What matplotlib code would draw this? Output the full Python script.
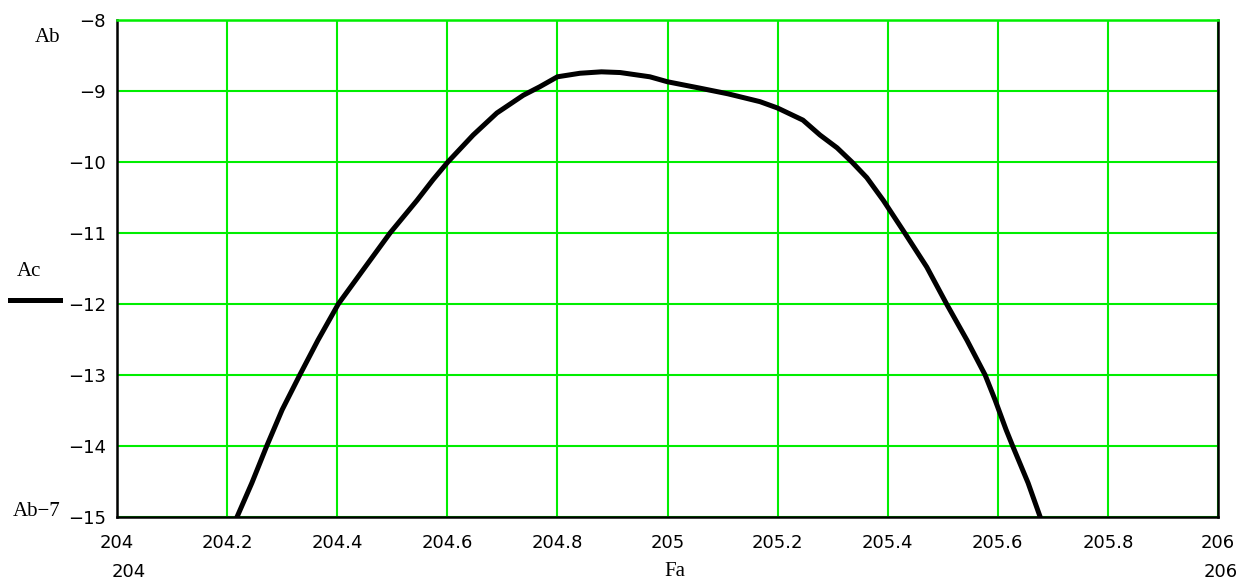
import matplotlib
matplotlib.use("Agg")
import matplotlib.pyplot as plt

# values
fa = [204.218, 204.245, 204.272, 204.300, 204.332, 204.365, 204.402, 204.447,
      204.496, 204.545, 204.574, 204.601, 204.647, 204.690, 204.738, 204.768,
      204.8, 204.841, 204.88, 204.914, 204.968, 205.0, 205.059, 205.11,
      205.168, 205.2, 205.246, 205.277, 205.308, 205.335, 205.362, 205.392,
      205.431, 205.471, 205.507, 205.544, 205.577, 205.595, 205.615, 205.627,
      205.655, 205.677]
ac = [-15.0, -14.52, -14.0, -13.49, -13.0, -12.51, -12.0, -11.52,
      -11.0, -10.54, -10.25, -10.0, -9.62, -9.31, -9.06, -8.94,
      -8.80, -8.75, -8.73, -8.74, -8.80, -8.87, -8.96, -9.04,
      -9.15, -9.24, -9.41, -9.62, -9.80, -10.0, -10.22, -10.54,
      -11.0, -11.48, -12.0, -12.51, -13.0, -13.35, -13.77, -14.0,
      -14.52, -15.0]

xticks = [204, 204.2, 204.4, 204.6, 204.8, 205, 205.2, 205.4, 205.6, 205.8, 206]
xlabels = ["204", "204.2", "204.4", "204.6", "204.8", "205", "205.2", "205.4", "205.6", "205.8", "206"]
yticks = [-8, -9, -10, -11, -12, -13, -14, -15]

fig = plt.figure(figsize=(12.42, 5.83), dpi=100)
ax = fig.add_axes([117/1242, 1-517/583, 1101/1242, 497/583])

ax.plot(fa, ac, color="black", lw=3.6, solid_joinstyle="round", zorder=3)

ax.set_xlim(204, 206)
ax.set_ylim(-15, -8)
ax.set_xticks(xticks)
ax.set_xticklabels(xlabels)
ax.set_yticks(yticks)
ax.set_yticklabels(["\u2212%d" % abs(v) for v in yticks])
ax.grid(True, color="#00ee00", lw=1.5)
ax.tick_params(length=0, labelsize=13, pad=8)
ax.tick_params(axis="x", pad=12)
for s in ax.spines.values():
    s.set_linewidth(1.8)
ax.spines["top"].set_color("#00ee00")
ax.spines["top"].set_zorder(4)

serif = dict(family="Liberation Serif", fontsize=15)
fig.text(48/1242, 1-38/583, "Ab", ha="center", va="center", **serif)
fig.text(37/1242, 1-512/583, "Ab\u22127", ha="center", va="center", **serif)
fig.text(29/1242, 1-272/583, "Ac", ha="center", va="center", **serif)
fig.text(675/1242, 1-572/583, "Fa", ha="center", va="center", **serif)
fig.text(129/1242, 1-572/583, "204", ha="center", va="center", fontsize=13)
fig.text(1221/1242, 1-572/583, "206", ha="center", va="center", fontsize=13)
fig.add_artist(plt.Line2D([10/1242, 60/1242], [1-300/583, 1-300/583], color="black", lw=3.6))

fig.savefig("out.png", dpi=100)
